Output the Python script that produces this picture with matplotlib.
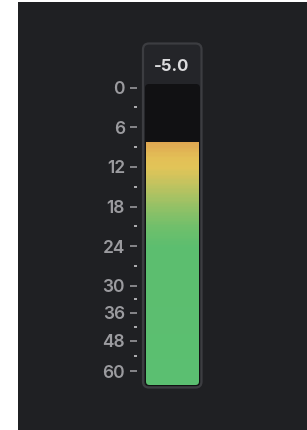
import numpy as np
import matplotlib
matplotlib.use("Agg")
import matplotlib.pyplot as plt
from matplotlib.patches import FancyBboxPatch, Rectangle
from matplotlib.colors import LinearSegmentedColormap, to_rgb
from matplotlib.transforms import IdentityTransform

# ---------------- data ----------------
major_db = [0, 6, 12, 18, 24, 30, 36, 48, 60]
major_labels = ["0", "6", "12", "18", "24", "30", "36", "48", "60"]
minor_db = [3, 9, 15, 21, 27, 33, 42, 54]
level_db = 8.2            # attenuation depth where the bar ends
readout = "-5.0"
grad_db = [8.2, 10.5, 12, 14, 18, 21, 24, 66]
grad_colors = ["#dfa752", "#e3bf56", "#e2c458", "#c8c35e", "#93c166", "#70bf6b", "#5cbe6f", "#5bbf71"]

# meter scale (non-linear dB mapping)
seg_db = [-10, 0, 30, 36, 48, 60, 100]
seg_pos = [-66.2, 0, 198.5, 225.2, 253.2, 283.5, 384.5]

W, H = 307, 430
fig = plt.figure(figsize=(W / 100, H / 100), dpi=100)
fig.patch.set_facecolor("white")

def fx(x):
    return x / W

def fy(y):
    return 1 - y / H

# dark panel
fig.patches.append(Rectangle((fx(18), 0), 1 - fx(18), fy(2), transform=fig.transFigure,
                             facecolor="#1f2023", edgecolor="none", zorder=0))

# meter frame (pixels, display coords)
frame = FancyBboxPatch((143, H - 387.5), 58.5, 344, boxstyle="round,pad=0,rounding_size=6",
                       transform=IdentityTransform(), facecolor="#242529", edgecolor="#3c3d41",
                       linewidth=1.6, zorder=1)
fig.patches.append(frame)
inner = FancyBboxPatch((145, H - 386), 55, 302, boxstyle="round,pad=0,rounding_size=4",
                       transform=IdentityTransform(), facecolor="#111113", edgecolor="none", zorder=2)
fig.patches.append(inner)

# meter axes
ax = fig.add_axes([fx(145), fy(386), fx(200) - fx(145), (386 - 84) / H])
ax.patch.set_visible(False)
ax.set_zorder(3)

def fwd(v):
    return np.interp(v, seg_db, seg_pos)

def inv(p):
    return np.interp(p, seg_pos, seg_db)

ax.set_yscale("function", functions=(fwd, inv))
ymin = inv(-3.5)
ymax = inv(298.5)
ax.set_ylim(ymax, ymin)
ax.set_xlim(-0.5, 0.5)

# gradient bar
cmap_pts = [(d - grad_db[0]) / (grad_db[-1] - grad_db[0]) for d in grad_db]
cmap = LinearSegmentedColormap.from_list("meter", list(zip(cmap_pts, [to_rgb(c) for c in grad_colors])))
edges = np.linspace(level_db, ymax, 300)
mids = (edges[:-1] + edges[1:]) / 2
cols = cmap((mids - grad_db[0]) / (grad_db[-1] - grad_db[0]))
bars = ax.bar(np.zeros(len(mids)), np.diff(edges), bottom=edges[:-1], width=0.965,
              color=cols, linewidth=0, zorder=3)
clip = FancyBboxPatch((146, H - 385), 53, 300, boxstyle="round,pad=0,rounding_size=3.5",
                      transform=IdentityTransform(), facecolor="none", edgecolor="none")
for b in bars:
    b.set_clip_path(clip)

# ticks
for s in ax.spines.values():
    s.set_visible(False)
ax.spines["left"].set_position(("outward", 8 * 0.72))
ax.set_xticks([])
ax.set_yticks(major_db)
ax.set_yticklabels(major_labels)
ax.set_yticks(minor_db, minor=True)
ax.tick_params(axis="y", which="major", length=5, width=1.1, color="#a2a2a6",
               labelcolor="#9b9b9f", labelsize=12.5, pad=3.6)
ax.tick_params(axis="y", which="minor", length=2.4, width=1.2, color="#c8c8ca")
for lab in ax.get_yticklabels():
    lab.set_fontfamily("Inter")
    lab.set_fontweight("semibold")

# readout
fig.text(fx(172), fy(66.5), readout, ha="center", va="center", color="#dcdcde",
         fontsize=12, fontweight="bold", family="Inter", zorder=5)

fig.savefig("out.png", dpi=100)
